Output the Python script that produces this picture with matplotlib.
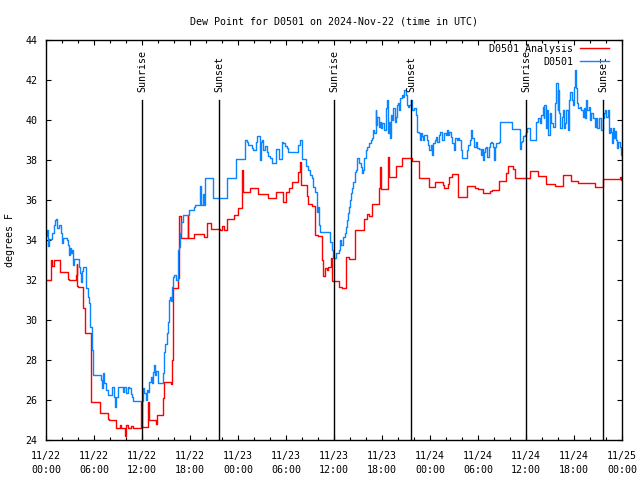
import numpy as np
import matplotlib
matplotlib.use("Agg")
import matplotlib.pyplot as plt

# hours since 2024-11-22 00:00 UTC
anaHours = [0.0, 0.6, 0.75, 1.0, 1.75, 2.7, 2.9, 3.8, 3.85, 3.9, 3.95, 4.6, 4.9, 5.6, 6.7,
            7.7, 7.9, 8.75, 9.2, 9.4, 9.85, 9.95, 10.2, 10.6, 10.9, 11.85, 11.95, 12.7, 12.85,
            13.75, 13.85, 14.65, 14.8, 15.6, 15.7, 15.85, 16.45, 16.65, 16.85, 17.7, 17.8,
            18.5, 19.7, 20.1, 20.6, 21.7, 22.0, 22.3, 22.6, 23.5, 24.05, 24.45, 24.6, 25.5,
            26.5, 27.8, 28.8, 29.6, 30.0, 30.4, 30.7, 31.5, 31.7, 31.85, 32.6, 32.8, 33.2,
            33.6, 34.0, 34.55, 34.65, 34.85, 35.1, 35.3, 35.65, 35.8, 36.6, 37.0, 37.5, 37.9,
            38.6, 39.7, 40.1, 40.4, 40.7, 41.6, 41.7, 41.9, 42.75, 42.85, 43.7, 44.5, 45.7,
            46.6, 47.9, 48.6, 49.6, 49.8, 50.2, 50.4, 50.8, 51.55, 52.6, 53.6, 54.0, 54.6,
            55.5, 55.7, 56.6, 57.55, 57.75, 58.4, 58.6, 60.5, 61.5, 62.5, 63.6, 64.6, 65.6,
            66.5, 67.5, 68.6, 69.6, 71.8, 71.9, 72.0]
anaTemp = [32.0, 33.0, 32.7, 33.0, 32.4, 32.05, 32.0, 32.25, 32.8, 31.7, 31.65, 30.6, 29.35,
           25.9, 25.35, 25.05, 25.0, 24.6, 24.75, 24.6, 24.2, 24.75, 24.6, 24.7, 24.6, 25.9,
           24.65, 25.9, 25.0, 24.8, 25.25, 26.1, 26.9, 26.8, 28.0, 31.6, 32.1, 35.2, 34.1,
           35.25, 34.1, 34.3, 34.13, 34.83, 34.53, 34.5, 34.7, 34.5, 35.03, 35.25, 35.6,
           37.5, 36.4, 36.6, 36.3, 36.1, 36.4, 35.9, 36.4, 36.6, 36.9, 37.4, 37.9, 36.75,
           36.2, 35.8, 35.7, 34.25, 34.2, 33.0, 32.2, 32.6, 32.5, 32.67, 33.1, 31.97, 31.67,
           31.6, 33.17, 33.05, 34.5, 35.03, 35.3, 35.2, 35.8, 36.6, 37.67, 36.55, 38.17,
           37.13, 37.7, 38.1, 37.95, 37.1, 36.67, 36.9, 36.75, 36.58, 36.8, 37.17, 37.3,
           36.15, 36.7, 36.6, 36.55, 36.37, 36.45, 36.5, 36.97, 37.37, 37.7, 37.55, 37.08,
           37.47, 37.2, 36.8, 36.7, 37.25, 36.95, 36.87, 36.83, 36.67, 37.03, 37.13, 37.0,
           37.0]

obsHours = [0.0, 0.1, 0.2, 0.4, 0.7, 1.05, 1.15, 1.25, 1.4, 1.65, 1.9, 2.0, 2.15, 2.6, 2.7,
            2.85, 2.95, 3.0, 3.1, 3.25, 3.35, 3.5, 4.15, 4.3, 4.4, 4.5, 4.65, 5.0, 5.2, 5.35,
            5.5, 5.7, 5.8, 5.9, 6.9, 7.0, 7.1, 7.3, 7.5, 7.7, 8.3, 8.55, 8.65, 8.75, 8.95,
            9.6, 9.8, 10.0, 10.2, 10.4, 10.6, 10.75, 10.9, 12.1, 12.3, 12.5, 12.6, 12.7, 12.9,
            13.1, 13.25, 13.35, 13.5, 13.65, 13.8, 13.95, 14.6, 14.8, 14.9, 15.1, 15.2, 15.4,
            15.5, 15.65, 15.75, 15.85, 16.05, 16.25, 16.45, 16.6, 16.7, 16.9, 17.1, 17.85,
            18.5, 18.6, 19.25, 19.4, 19.6, 19.7, 19.9, 20.9, 22.65, 23.75, 24.9, 25.1, 25.3,
            25.7, 25.9, 26.25, 26.4, 26.75, 26.85, 26.95, 27.1, 27.35, 27.6, 27.8, 28.0,
            28.3, 28.8, 29.15, 29.5, 29.65, 29.9, 30.1, 30.3, 31.55, 31.8, 32.05, 32.55,
            32.8, 33.0, 33.2, 33.4, 33.6, 33.85, 33.9, 34.0, 34.15, 34.25, 35.5, 35.7, 35.85,
            36.3, 36.6, 36.75, 36.9, 37.15, 37.35, 37.45, 37.6, 37.7, 37.85, 38.0, 38.1,
            38.3, 38.4, 38.6, 38.75, 38.9, 39.1, 39.35, 39.55, 39.65, 39.75, 40.0, 40.15,
            40.4, 40.6, 40.8, 40.9, 41.0, 41.2, 41.3, 41.4, 41.6, 41.75, 41.85, 42.05, 42.25,
            42.5, 42.65, 42.75, 42.85, 43.0, 43.15, 43.3, 43.4, 43.6, 43.7, 43.85, 44.0,
            44.1, 44.3, 44.5, 44.65, 44.8, 44.95, 45.1, 45.2, 45.4, 45.6, 45.7, 45.8, 46.0,
            46.2, 46.4, 46.6, 46.8, 46.9, 47.05, 47.15, 47.3, 47.6, 47.7, 47.9, 48.1, 48.3,
            48.4, 48.6, 48.7, 48.9, 49.1, 49.3, 49.5, 49.75, 49.95, 50.1, 50.25, 50.4, 50.6,
            50.8, 51.0, 51.1, 51.35, 51.5, 51.65, 51.85, 51.95, 52.6, 52.8, 53.0, 53.15,
            53.3, 53.5, 53.7, 53.9, 54.1, 54.35, 54.5, 54.6, 54.75, 54.85, 55.05, 55.15,
            55.35, 55.45, 55.6, 55.75, 55.9, 56.0, 56.1, 56.3, 56.6, 56.8, 58.2, 59.2, 59.35,
            59.5, 59.6, 59.85, 60.0, 60.15, 60.45, 61.2, 61.5, 61.7, 61.9, 62.1, 62.2, 62.3,
            62.5, 62.65, 62.8, 62.95, 63.15, 63.4, 63.6, 63.8, 63.95, 64.0, 64.15, 64.3,
            64.5, 64.6, 64.75, 64.9, 65.05, 65.2, 65.35, 65.5, 65.7, 65.9, 66.0, 66.15, 66.3,
            66.4, 66.5, 66.7, 66.9, 67.1, 67.25, 67.4, 67.55, 67.65, 67.85, 67.95, 68.15,
            68.35, 68.6, 68.8, 68.9, 69.1, 69.35, 69.4, 69.6, 69.75, 69.9, 70.05, 70.2,
            70.35, 70.5, 70.65, 70.75, 70.9, 71.0, 71.1, 71.3, 71.4, 71.5, 71.7, 71.85,
            71.95, 72.0]
obsTemp = [34.2, 34.5, 33.7, 34.03, 34.37, 34.75, 35.0, 35.03, 34.58, 34.75, 34.33, 33.87,
           34.08, 34.0, 33.75, 33.25, 33.5, 33.58, 33.33, 33.5, 32.75, 33.05, 32.67, 32.37,
           31.9, 32.45, 32.67, 31.58, 31.17, 30.83, 29.67, 29.0, 28.5, 27.25, 27.0, 26.58,
           27.33, 26.83, 26.5, 26.25, 26.67, 26.17, 25.67, 26.17, 26.63, 26.4, 26.63, 26.33,
           26.63, 26.58, 26.3, 26.17, 25.97, 26.58, 26.37, 26.0, 26.5, 26.4, 26.92, 27.17,
           26.83, 27.4, 27.75, 27.25, 27.47, 26.83, 27.33, 28.4, 28.8, 29.33, 29.9, 31.0,
           31.17, 30.97, 31.63, 32.13, 32.25, 32.0, 33.5, 33.63, 34.33, 34.9, 35.25, 35.5,
           35.67, 35.75, 36.7, 35.75, 36.3, 35.75, 37.08, 36.08, 37.08, 38.03, 39.0, 38.9,
           38.75, 38.6, 38.5, 38.9, 39.2, 38.0, 38.9, 39.0, 38.5, 38.7, 38.42, 38.2, 38.08,
           37.87, 38.53, 38.03, 38.92, 38.83, 38.7, 38.58, 38.42, 38.75, 39.0, 38.03, 37.7,
           37.5, 37.25, 37.08, 36.67, 36.4, 35.9, 35.4, 35.67, 34.75, 34.38, 33.92, 33.5,
           33.08, 33.37, 33.5, 34.0, 33.75, 34.17, 34.33, 34.67, 35.0, 35.33, 35.67, 36.0,
           36.33, 36.58, 36.9, 37.42, 37.5, 38.08, 37.83, 37.67, 37.33, 37.5, 38.08, 38.5,
           38.67, 38.83, 39.0, 39.08, 39.5, 39.33, 40.5, 39.75, 40.17, 39.67, 39.92, 39.58,
           39.83, 39.5, 40.58, 41.0, 39.33, 39.92, 39.08, 40.25, 40.0, 40.58, 39.92, 40.17,
           40.75, 40.83, 40.5, 41.08, 41.25, 41.17, 41.5, 41.25, 40.75, 40.67, 40.75, 41.0,
           40.58, 40.5, 40.58, 40.25, 39.42, 39.37, 39.0, 39.37, 39.2, 39.0, 39.25, 39.0,
           38.75, 38.5, 38.75, 38.25, 38.83, 39.0, 39.17, 38.92, 39.25, 39.42, 39.0, 39.37,
           39.25, 39.5, 39.25, 39.42, 39.17, 38.83, 38.5, 39.08, 39.0, 39.08, 39.0, 38.5,
           38.08, 38.5, 38.75, 39.0, 39.5, 39.08, 38.67, 38.92, 38.58, 38.53, 38.25, 38.53,
           38.0, 38.42, 38.58, 38.63, 38.17, 38.67, 38.83, 38.92, 38.83, 38.63, 38.0, 38.67,
           38.87, 38.92, 39.92, 39.53, 38.53, 38.92, 38.97, 39.2, 39.25, 39.42, 39.58, 39.0,
           39.92, 40.08, 39.83, 40.25, 40.67, 40.08, 40.75, 39.58, 40.5, 39.25, 40.33, 39.83,
           39.67, 40.83, 41.83, 40.5, 41.5, 40.33, 39.58, 40.17, 40.5, 39.58, 39.83, 40.5,
           39.5, 41.0, 41.42, 41.0, 40.75, 41.67, 42.5, 41.58, 40.83, 40.58, 40.67, 40.5,
           40.17, 40.58, 40.08, 41.0, 40.5, 40.67, 40.0, 40.33, 40.08, 39.67, 40.08, 39.58,
           40.08, 39.83, 39.5, 40.08, 40.33, 40.5, 40.17, 40.5, 39.33, 39.58, 39.42, 38.83,
           39.58, 39.08, 39.47, 39.0, 38.58, 38.92, 38.67, 38.25, 38.0, 38.0]

sunHours = [12.0, 21.625, 36.0, 45.625, 60.0, 69.625]
sunLabels = ["Sunrise", "Sunset", "Sunrise", "Sunset", "Sunrise", "Sunset"]

tickHours = list(range(0, 73, 6))
tickLabels = ["11/22\n00:00", "11/22\n06:00", "11/22\n12:00", "11/22\n18:00",
              "11/23\n00:00", "11/23\n06:00", "11/23\n12:00", "11/23\n18:00",
              "11/24\n00:00", "11/24\n06:00", "11/24\n12:00", "11/24\n18:00",
              "11/25\n00:00"]


def main():
    plt.rcParams['font.family'] = ['DejaVu Sans Mono']
    fs = 7.2
    fig = plt.figure(figsize=(6.4, 4.8), dpi=100)
    ax = fig.add_axes([46/640, 40/480, 576/640, 400/480])

    ax.plot(anaHours, anaTemp, color='#ff0000', lw=1.0, drawstyle='steps-post',
            label='D0501 Analysis')
    ax.plot(obsHours, obsTemp, color='#0a84ff', lw=1.0, drawstyle='steps-post',
            label='D0501')

    for h, name in zip(sunHours, sunLabels):
        ax.plot([h, h], [24, 41.0], color='black', lw=1.0)
        ax.text(h, 41.4, name, rotation=90, ha='center', va='bottom', fontsize=fs)

    ax.set_xlim(0, 72)
    ax.set_ylim(24, 44)
    ax.set_xticks(tickHours)
    ax.set_xticklabels(tickLabels, fontsize=fs, linespacing=1.45)
    ax.set_xticks(np.arange(0, 73, 2), minor=True)
    ax.set_yticks(np.arange(24, 45, 2))
    ax.tick_params(axis='y', labelsize=fs)
    ax.tick_params(which='both', direction='in', top=True, right=True, width=0.8)
    ax.tick_params(which='major', length=3.5, pad=6)
    ax.tick_params(axis='x', which='major', pad=8)
    ax.tick_params(which='minor', length=2)
    for s in ax.spines.values():
        s.set_linewidth(1.0)

    ax.set_title('Dew Point for D0501 on 2024-Nov-22 (time in UTC)', fontsize=fs, pad=11.5)
    ax.set_ylabel('degrees F', fontsize=fs, labelpad=8)

    ax.legend(loc='upper right', bbox_to_anchor=(563/576, 0.99), frameon=False,
              markerfirst=False, fontsize=fs, handlelength=2.9, handletextpad=0.7,
              labelspacing=0.3, borderpad=0, borderaxespad=0)

    fig.savefig('out.png', dpi=100)


if __name__ == "__main__":
    main()
